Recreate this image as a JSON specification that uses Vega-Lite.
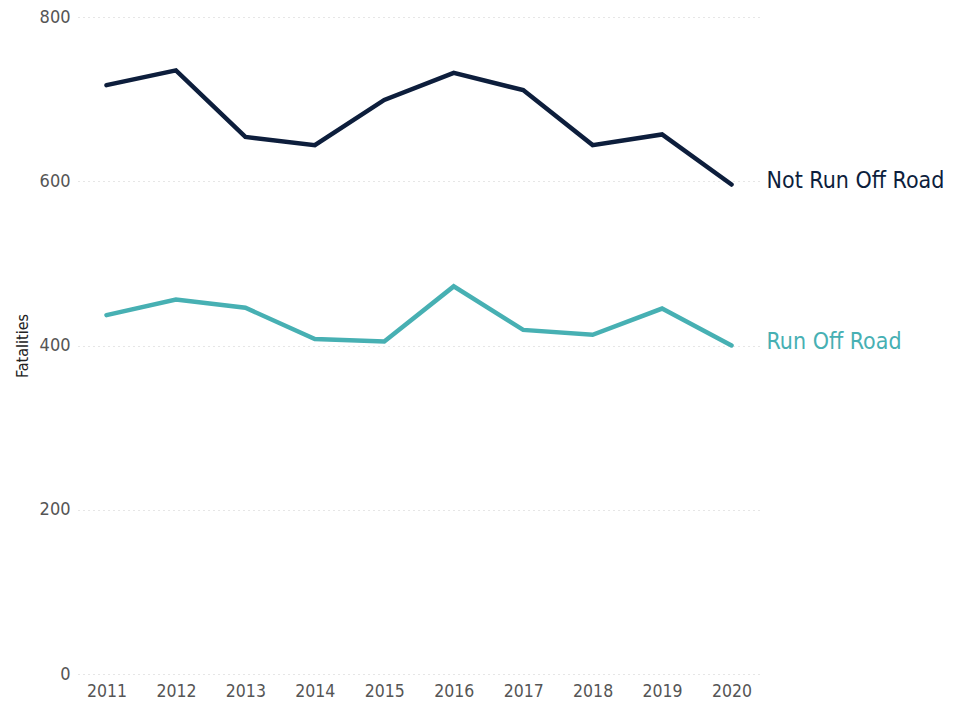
{
  "$schema": "https://vega.github.io/schema/vega-lite/v6.json",
  "width": 682,
  "height": 657,
  "autosize": {"type": "none"},
  "padding": {"left": 78, "top": 17, "right": 200, "bottom": 46},
  "background": "white",
  "config": {
    "view": {"stroke": null},
    "font": "DejaVu Sans Condensed"
  },
  "data": {
    "values": [
      {"year": "2011", "series": "Not Run Off Road", "fatalities": 717},
      {"year": "2012", "series": "Not Run Off Road", "fatalities": 735},
      {"year": "2013", "series": "Not Run Off Road", "fatalities": 654},
      {"year": "2014", "series": "Not Run Off Road", "fatalities": 644},
      {"year": "2015", "series": "Not Run Off Road", "fatalities": 699},
      {"year": "2016", "series": "Not Run Off Road", "fatalities": 732},
      {"year": "2017", "series": "Not Run Off Road", "fatalities": 711},
      {"year": "2018", "series": "Not Run Off Road", "fatalities": 644},
      {"year": "2019", "series": "Not Run Off Road", "fatalities": 657},
      {"year": "2020", "series": "Not Run Off Road", "fatalities": 596},
      {"year": "2011", "series": "Run Off Road", "fatalities": 437},
      {"year": "2012", "series": "Run Off Road", "fatalities": 456},
      {"year": "2013", "series": "Run Off Road", "fatalities": 446},
      {"year": "2014", "series": "Run Off Road", "fatalities": 408},
      {"year": "2015", "series": "Run Off Road", "fatalities": 405},
      {"year": "2016", "series": "Run Off Road", "fatalities": 472},
      {"year": "2017", "series": "Run Off Road", "fatalities": 419},
      {"year": "2018", "series": "Run Off Road", "fatalities": 413},
      {"year": "2019", "series": "Run Off Road", "fatalities": 445},
      {"year": "2020", "series": "Run Off Road", "fatalities": 400}
    ]
  },
  "encoding": {
    "x": {
      "field": "year",
      "type": "ordinal",
      "scale": {"type": "point", "padding": 0.41},
      "axis": {
        "title": null,
        "labelAngle": 0,
        "labelFontSize": 17.5,
        "labelColor": "#555555",
        "labelPadding": 8,
        "domain": false,
        "ticks": false,
        "grid": false
      }
    },
    "y": {
      "field": "fatalities",
      "type": "quantitative",
      "scale": {"domain": [0, 800], "nice": false},
      "axis": {
        "title": "Fatalities",
        "titleFontSize": 16,
        "titleFontWeight": "normal",
        "titleColor": "#222222",
        "titlePadding": 9,
        "values": [0, 200, 400, 600, 800],
        "labelFontSize": 18,
        "labelColor": "#555555",
        "labelPadding": 8,
        "domain": false,
        "ticks": false,
        "grid": true,
        "gridColor": "#cccccc",
        "gridDash": [1, 4],
        "gridWidth": 1
      }
    },
    "color": {
      "field": "series",
      "type": "nominal",
      "scale": {"domain": ["Not Run Off Road", "Run Off Road"], "range": ["#0d1e3c", "#47b0b3"]},
      "legend": null
    }
  },
  "layer": [
    {
      "mark": {"type": "line", "strokeWidth": 4.5, "strokeCap": "round", "strokeJoin": "miter"}
    },
    {
      "transform": [{"filter": "datum.year == '2020'"}],
      "mark": {"type": "text", "align": "left", "baseline": "middle", "dx": 35, "dy": -4, "fontSize": 23},
      "encoding": {"text": {"field": "series"}}
    }
  ]
}
